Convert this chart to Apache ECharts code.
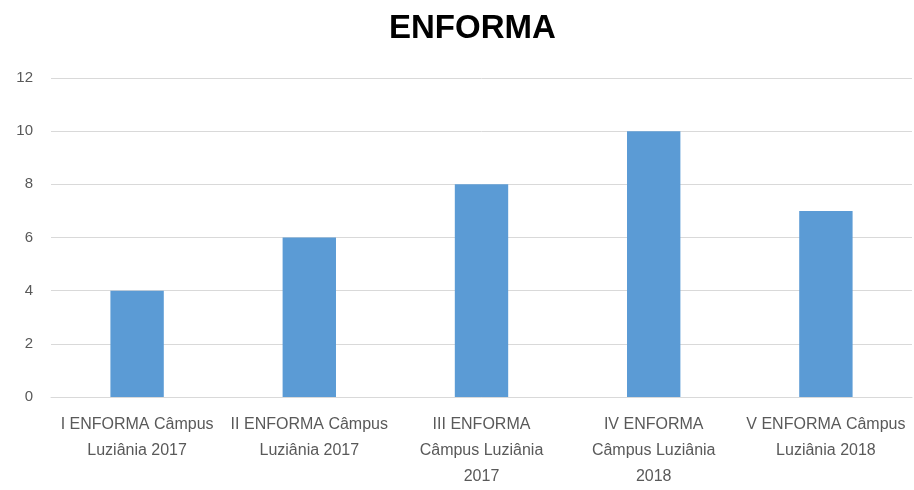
<!DOCTYPE html>
<html><head><meta charset="utf-8">
<script src="https://cdn.jsdelivr.net/npm/echarts@6/dist/echarts.min.js"></script>
<style>html,body{margin:0;padding:0;background:#fff;overflow:hidden}#c{width:914px;height:490px}</style>
</head><body><div id="c"></div>
<script>
const title = 'ENFORMA';
const categories = [
  'I ENFORMA Câmpus\nLuziânia 2017',
  'II ENFORMA Câmpus\nLuziânia 2017',
  'III ENFORMA\nCâmpus Luziânia\n2017',
  'IV ENFORMA\nCâmpus Luziânia\n2018',
  'V ENFORMA Câmpus\nLuziânia 2018'
];
const values = [4, 6, 8, 10, 7];
const yTicks = [0, 2, 4, 6, 8, 10, 12];

const chart = echarts.init(document.getElementById('c'));
chart.setOption({
  animation: false,
  title: {
    text: title, left: 384, top: 7,
    textStyle: { fontFamily: 'Liberation Sans', fontWeight: 'bold', fontSize: 33, color: '#000' }
  },
  grid: { left: 51, right: 2, top: 78, bottom: 86, containLabel: false },
  xAxis: {
    type: 'category', data: categories,
    axisLine: { lineStyle: { color: '#d9d9d9', width: 1 } },
    axisTick: { show: false },
    axisLabel: {
      interval: 0, margin: 15, color: '#595959', fontSize: 16, lineHeight: 26,
      fontFamily: 'Liberation Sans'
    }
  },
  yAxis: {
    type: 'value', min: yTicks[0], max: yTicks[yTicks.length - 1], interval: 2,
    axisLine: { show: false }, axisTick: { show: false },
    splitLine: { lineStyle: { color: '#d9d9d9', width: 1 } },
    axisLabel: { color: '#595959', fontSize: 15, margin: 18, fontFamily: 'Liberation Sans' }
  },
  series: [{
    type: 'bar', data: values, barWidth: '31%',
    itemStyle: { color: '#5b9bd5' }
  }]
});
</script></body></html>
